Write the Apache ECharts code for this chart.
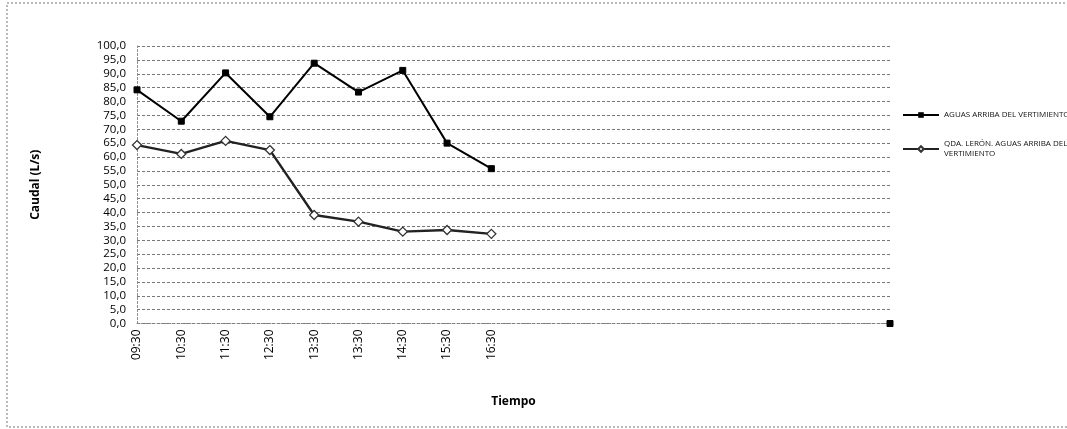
<!DOCTYPE html>
<html>
<head>
<meta charset="utf-8">
<script src="https://cdn.jsdelivr.net/npm/echarts@6/dist/echarts.min.js"></script>
<style>html,body{margin:0;padding:0;background:#fff;}#c{width:1067px;height:429px;}</style>
</head>
<body>
<div id="c"></div>
<script>
var categories = ['09:30','10:30','11:30','12:30','13:30','13:30','14:30','15:30','16:30','','','','','','','','',''];
var seriesNames = ['AGUAS ARRIBA DEL VERTIMIENTO', 'QDA. LERÓN. AGUAS ARRIBA DEL VERTIMIENTO'];
var aguasArriba = [84.2, 72.9, 90.3, 74.5, 93.8, 83.4, 91.2, 65.0, 55.8, null, null, null, null, null, null, null, null, 0];
var qdaLeron = [64.3, 61.1, 65.8, 62.5, 39.1, 36.7, 33.1, 33.7, 32.3, null, null, null, null, null, null, null, null, null];
var yMin = 0, yMax = 100, yStep = 5;

var chart = echarts.init(document.getElementById('c'), null, {renderer: 'canvas'});
var font = 'Open Sans, Liberation Sans, sans-serif';
chart.setOption({
  backgroundColor: '#fff',
  animation: false,
  textStyle: {fontFamily: font, color: '#000'},
  graphic: [{
    type: 'rect', shape: {x: 7, y: 3, width: 1080, height: 424},
    style: {fill: 'none', stroke: '#777', lineWidth: 1, lineDash: [2, 2]}
  }],
  grid: {left: 137, right: 177, top: 46, bottom: 105.5, containLabel: false},
  legend: {
    orient: 'vertical', left: 897, top: 105, itemGap: 19,
    itemWidth: 36, itemHeight: 7,
    textStyle: {fontSize: 8, fontFamily: font, color: '#111', width: 128, overflow: 'break', lineHeight: 10},
    data: [seriesNames[0], seriesNames[1]]
  },
  xAxis: {
    type: 'category', data: categories, boundaryGap: false,
    name: 'Tiempo', nameLocation: 'middle', nameGap: 72,
    nameTextStyle: {fontSize: 12, fontWeight: 'bold', color: '#000'},
    axisLine: {lineStyle: {color: '#888', type: [2, 2], width: 1}},
    axisTick: {show: false},
    axisLabel: {rotate: 90, fontSize: 12, color: '#000', interval: 0, margin: 6}
  },
  yAxis: {
    type: 'value', min: yMin, max: yMax, interval: yStep,
    name: 'Caudal (L/s)', nameLocation: 'middle', nameGap: 95, nameRotate: 90,
    nameTextStyle: {fontSize: 12, fontWeight: 'bold', color: '#000'},
    axisLine: {show: true, lineStyle: {color: '#888', type: [2, 2], width: 1}},
    axisTick: {show: false},
    axisLabel: {fontSize: 11.5, color: '#000', margin: 11, formatter: function (v) { return v.toFixed(1).replace('.', ','); }},
    splitLine: {show: true, lineStyle: {color: '#777', type: [3, 2], width: 1}}
  },
  series: [
    {
      name: seriesNames[0], type: 'line', data: aguasArriba, connectNulls: false,
      symbol: 'rect', symbolSize: 6, showAllSymbol: true,
      lineStyle: {color: '#000', width: 2},
      itemStyle: {color: '#000', borderColor: '#000'}
    },
    {
      name: seriesNames[1], type: 'line', data: qdaLeron, connectNulls: false,
      symbol: 'diamond', symbolSize: 9, showAllSymbol: true,
      lineStyle: {color: '#222', width: 2.4},
      itemStyle: {color: '#fff', borderColor: '#333', borderWidth: 1.3}
    }
  ]
});
</script>
</body>
</html>
